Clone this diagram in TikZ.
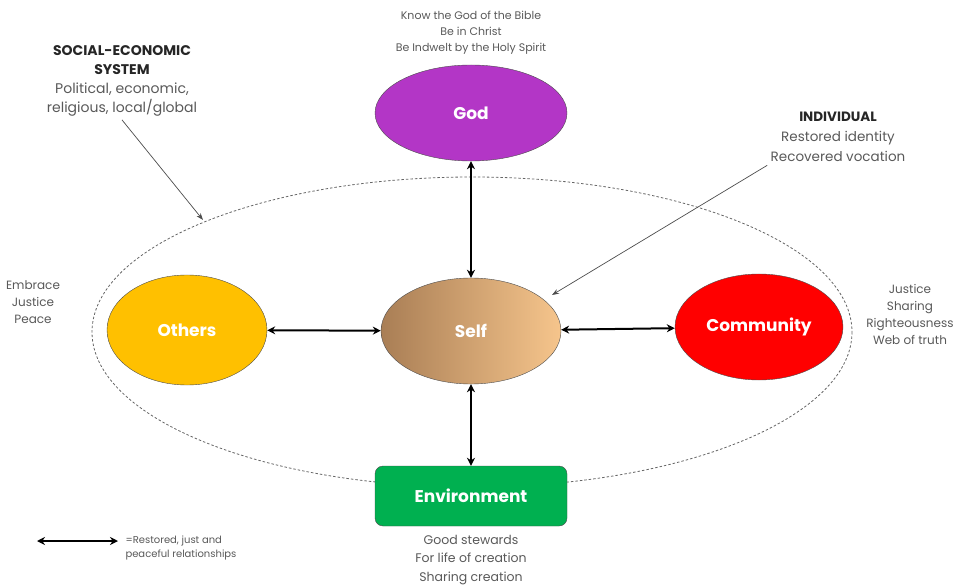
\documentclass[tikz,border=0pt]{standalone}
\usepackage{fontspec}
\setmainfont{Poppins}
\usetikzlibrary{arrows.meta,shapes.geometric}

\definecolor{godpurple}{HTML}{B336C6}
\definecolor{othersgold}{HTML}{FFC000}
\definecolor{commred}{HTML}{FF0000}
\definecolor{envgreen}{HTML}{00B050}
\definecolor{selfdark}{HTML}{A97E55}
\definecolor{selflight}{HTML}{F6C58C}
\definecolor{notegray}{HTML}{595959}
\definecolor{headgray}{HTML}{262626}

\begin{document}
\begin{tikzpicture}[x=1pt,y=-1pt,
    bubble/.style={ellipse, draw=black!70, inner sep=0pt, text=white,
      font=\bfseries\fontsize{17}{20}\selectfont},
    rel/.style={{Stealth[length=8pt,width=8pt]}-{Stealth[length=8pt,width=8pt]}, line width=2pt},
    note/.style={align=center, text=notegray, font=\fontsize{12}{17}\selectfont},
    pointer/.style={-{Stealth[length=7pt,width=5pt]}, draw=black!70, line width=0.7pt}]
  \useasboundingbox (0,0) rectangle (958,585);

  % Social-economic system
  \draw[black!60, line width=0.8pt, dash pattern=on 2.5pt off 2pt] (472,332) ellipse (380 and 155);

  % Relationships
  \node[bubble, fill=godpurple, minimum width=192, minimum height=96] (god) at (471,113) {God};
  \node[bubble, left color=selfdark, right color=selflight, minimum width=180, minimum height=106] (self) at (471,331) {Self};
  \node[bubble, fill=othersgold, minimum width=160, minimum height=110] (others) at (187,330) {Others};
  \node[bubble, fill=commred, minimum width=168, minimum height=106] (comm) at (759,327) {Community};
  \node[draw=black!70, fill=envgreen, rounded corners=8pt, minimum width=192, minimum height=60,
    text=white, font=\bfseries\fontsize{17}{20}\selectfont] (env) at (471,496) {Environment};

  \draw[rel] (god) -- (self);
  \draw[rel] (self) -- (env);
  \draw[rel] (others) -- (self);
  \draw[rel] (self) -- (comm);

  % Notes
  \node[note, font=\fontsize{11}{16}\selectfont] (godnote) at (471,33)
    {Know the God of the Bible\\Be in Christ\\Be Indwelt by the Holy Spirit};
  \node[note, font=\fontsize{14}{19}\selectfont] (sysnote) at (122,81)
    {\textbf{\color{headgray}SOCIAL-ECONOMIC}\\\textbf{\color{headgray}SYSTEM}\\Political, economic,\\religious, local/global};
  \node[note, font=\fontsize{13.5}{20}\selectfont] (indnote) at (838,137)
    {\textbf{\color{headgray}INDIVIDUAL}\\Restored identity\\Recovered vocation};
  \node[note] (othnote) at (33,302) {Embrace\\Justice\\Peace};
  \node[note] (commnote) at (910,314) {Justice\\Sharing\\Righteousness\\Web of truth};
  \node[note, font=\fontsize{12.5}{18.5}\selectfont] (envnote) at (471,560)
    {Good stewards\\For life of creation\\Sharing creation};

  % Pointers
  \coordinate (sysend) at (203,220);
  \coordinate (indend) at (552,295);
  \draw[pointer] (sysnote.south) -- (sysend);
  \draw[pointer] (indnote.south west) -- (indend);

  % Key
  \coordinate (keyL) at (37,541);
  \coordinate (keyR) at (118,541);
  \draw[rel] (keyL) -- (keyR);
  \node[note, align=left, anchor=west, font=\fontsize{10}{14}\selectfont] (keytext) at (122,548)
    {=Restored, just and\\peaceful relationships};
\end{tikzpicture}
\end{document}
